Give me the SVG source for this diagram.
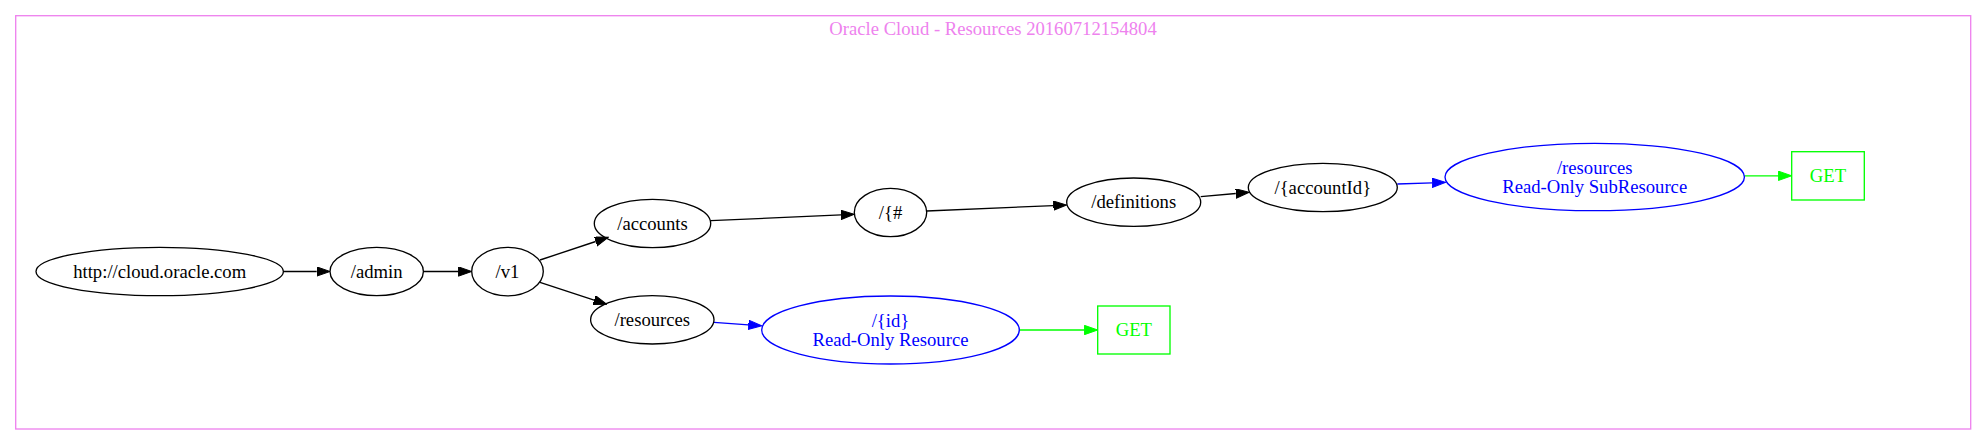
<svg xmlns="http://www.w3.org/2000/svg" width="1987" height="445" viewBox="0 0 1987 445">
<style>
text{font-family:"Liberation Serif","Times New Roman",serif;font-size:18.67px;text-anchor:middle}
.n ellipse,.n rect{fill:none;stroke-width:1.33}
.k ellipse{stroke:#000}
.k text{fill:#000}
.b ellipse{stroke:#0000ff}
.b text{fill:#0000ff}
.g rect{stroke:#00ff00}
.g text{fill:#00ff00}
.e{fill:none;stroke-width:1.33}
.ek{stroke:#000}
.eb{stroke:#0000ff}
.eg{stroke:#00ff00}
</style>
<defs>
<marker id="ak" markerUnits="userSpaceOnUse" markerWidth="14" markerHeight="10" refX="0" refY="4.67" orient="auto"><path d="M0,0 L13.3,4.67 L0,9.33 z" fill="#000" stroke="#000" stroke-width="1"/></marker>
<marker id="ab" markerUnits="userSpaceOnUse" markerWidth="14" markerHeight="10" refX="0" refY="4.67" orient="auto"><path d="M0,0 L13.3,4.67 L0,9.33 z" fill="#0000ff" stroke="#0000ff" stroke-width="1"/></marker>
<marker id="ag" markerUnits="userSpaceOnUse" markerWidth="14" markerHeight="10" refX="0" refY="4.67" orient="auto"><path d="M0,0 L13.3,4.67 L0,9.33 z" fill="#00ff00" stroke="#00ff00" stroke-width="1"/></marker>
</defs>
<rect width="1987" height="445" fill="#fff"/>
<g id="cluster">
<rect x="15.7" y="15.7" width="1955" height="413.3" fill="none" stroke="#ee82ee" stroke-width="1.33"/>
<text x="993" y="35" fill="#ee82ee">Oracle Cloud - Resources 20160712154804</text>
</g>
<g id="connectors">
<path class="e ek" d="M283.4,271.5 L316.7,271.5" marker-end="url(#ak)"/>
<path class="e ek" d="M423.4,271.5 L458.4,271.5" marker-end="url(#ak)"/>
<path class="e ek" d="M540,260 L595.7,241.5" marker-end="url(#ak)"/>
<path class="e ek" d="M540,282.3 L594.1,300.1" marker-end="url(#ak)"/>
<path class="e ek" d="M710.7,220.7 L841,214.9" marker-end="url(#ak)"/>
<path class="e ek" d="M926.7,211 L1053.4,205.6" marker-end="url(#ak)"/>
<path class="e ek" d="M1200.7,196.7 L1235.8,193.5" marker-end="url(#ak)"/>
<path class="e eb" d="M1397.3,184 L1432.2,182.8" marker-end="url(#ab)"/>
<path class="e eg" d="M1744.3,175.8 L1778.4,175.8" marker-end="url(#ag)"/>
<path class="e eb" d="M714,322.3 L748.4,324.8" marker-end="url(#ab)"/>
<path class="e eg" d="M1019.3,330 L1084.4,330" marker-end="url(#ag)"/>
</g>
<g id="n_root" class="n k"><ellipse cx="159.7" cy="271.5" rx="123.7" ry="24.2"/><text x="159.7" y="277.5">http://cloud.oracle.com</text></g>
<g id="n_admin" class="n k"><ellipse cx="376.7" cy="271.5" rx="46.7" ry="24.2"/><text x="376.7" y="277.5">/admin</text></g>
<g id="n_v1" class="n k"><ellipse cx="507.5" cy="271.6" rx="35.8" ry="24.2"/><text x="507.5" y="277.6">/v1</text></g>
<g id="n_accounts" class="n k"><ellipse cx="652.5" cy="223.5" rx="58.2" ry="24.2"/><text x="652.5" y="229.5">/accounts</text></g>
<g id="n_resources" class="n k"><ellipse cx="652.3" cy="319.8" rx="61.7" ry="24.2"/><text x="652.3" y="325.8">/resources</text></g>
<g id="n_hash" class="n k"><ellipse cx="890.5" cy="212.5" rx="36.2" ry="24.2"/><text x="890.5" y="218.5">/{#</text></g>
<g id="n_definitions" class="n k"><ellipse cx="1133.7" cy="202.2" rx="67" ry="24.2"/><text x="1133.7" y="208.2">/definitions</text></g>
<g id="n_accountId" class="n k"><ellipse cx="1322.8" cy="187.5" rx="74.5" ry="24.2"/><text x="1322.8" y="193.5">/{accountId}</text></g>
<g id="n_subresource" class="n b"><ellipse cx="1594.7" cy="177" rx="149.7" ry="33.7"/><text x="1594.7" y="173.7">/resources</text><text x="1594.7" y="192.5">Read-Only SubResource</text></g>
<g id="n_get2" class="n g"><rect x="1791.7" y="151.7" width="72.6" height="48.3"/><text x="1828" y="181.8">GET</text></g>
<g id="n_id" class="n b"><ellipse cx="890.5" cy="330" rx="128.8" ry="34"/><text x="890.5" y="326.7">/{id}</text><text x="890.5" y="345.7">Read-Only Resource</text></g>
<g id="n_get1" class="n g"><rect x="1097.7" y="306" width="72.3" height="48"/><text x="1133.8" y="336">GET</text></g>
</svg>
